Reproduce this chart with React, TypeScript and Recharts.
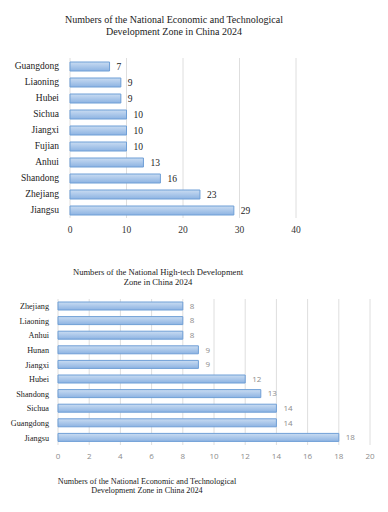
import React from 'react';
import { BarChart, Bar, XAxis, YAxis, CartesianGrid, LabelList } from 'recharts';

// Economic and Technological Development Zones
const ecoProvinces = ['Guangdong', 'Liaoning', 'Hubei', 'Sichua', 'Jiangxi', 'Fujian', 'Anhui', 'Shandong', 'Zhejiang', 'Jiangsu'];
const ecoCounts = [7, 9, 9, 10, 10, 10, 13, 16, 23, 29];
const ecoTicks = [0, 10, 20, 30, 40];

// High-tech Development Zones
const techProvinces = ['Zhejiang', 'Liaoning', 'Anhui', 'Hunan', 'Jiangxi', 'Hubei', 'Shandong', 'Sichua', 'Guangdong', 'Jiangsu'];
const techCounts = [8, 8, 8, 9, 9, 12, 13, 14, 14, 18];
const techTicks = [0, 2, 4, 6, 8, 10, 12, 14, 16, 18, 20];

const ecoData = ecoProvinces.map((name, i) => ({ name, value: ecoCounts[i] }));
const techData = techProvinces.map((name, i) => ({ name, value: techCounts[i] }));

const serif = '"Liberation Serif", "Times New Roman", serif';
const sans = '"Open Sans", "Liberation Sans", sans-serif';

const titleStyle = (top: number, center: number, size: number): React.CSSProperties => ({
  position: 'absolute',
  top,
  left: center - 150,
  width: 300,
  textAlign: 'center',
  fontFamily: serif,
  fontSize: size,
  lineHeight: `${Math.round(size * 1.15)}px`,
  color: '#222',
  whiteSpace: 'nowrap',
});

const BarGradient = ({ id }: { id: string }) => (
  <defs>
    <linearGradient id={id} x1="0" y1="0" x2="0" y2="1">
      <stop offset="0%" stopColor="#c9dcf2" />
      <stop offset="100%" stopColor="#8db3e2" />
    </linearGradient>
  </defs>
);

export default function App() {
  return (
    <div style={{ position: 'absolute', left: 0, top: 0, width: 388, height: 512, background: '#fff', overflow: 'hidden' }}>
      <div style={titleStyle(14, 174, 10)}>
        Numbers of the National Economic and Technological
        <br />
        Development Zone in China 2024
      </div>
      <div style={{ position: 'absolute', left: 0, top: 0 }}>
        <BarChart width={388} height={240} data={ecoData} layout="vertical" margin={{ top: 58, right: 92, bottom: 0, left: 0 }}>
          <BarGradient id="ecoFill" />
          <CartesianGrid horizontal={false} stroke="#dedede" />
          <XAxis
            type="number"
            domain={[0, 40]}
            ticks={ecoTicks}
            axisLine={false}
            tickLine={false}
            height={22}
            tick={{ fill: '#333', fontSize: 9.5, fontFamily: serif }}
          />
          <YAxis
            type="category"
            dataKey="name"
            width={70}
            axisLine={false}
            tickLine={false}
            interval={0}
            tick={{ fill: '#222', fontSize: 9.5, fontFamily: serif, dx: -3 }}
          />
          <Bar dataKey="value" barSize={9} fill="url(#ecoFill)" stroke="#6f9fd6" strokeWidth={1} isAnimationActive={false}>
            <LabelList dataKey="value" position="right" offset={7} style={{ fill: '#222', fontSize: 9.5, fontFamily: serif }} />
          </Bar>
        </BarChart>
      </div>

      <div style={titleStyle(267, 158, 8.6)}>
        Numbers of the National High-tech Development
        <br />
        Zone in China 2024
      </div>
      <div style={{ position: 'absolute', left: 0, top: 260 }}>
        <BarChart width={388} height={205} data={techData} layout="vertical" margin={{ top: 39, right: 18, bottom: 0, left: 0 }}>
          <BarGradient id="techFill" />
          <CartesianGrid horizontal={false} stroke="#dedede" />
          <XAxis
            type="number"
            domain={[0, 20]}
            ticks={techTicks}
            axisLine={false}
            tickLine={false}
            height={20}
            tick={{ fill: '#8c8c8c', fontSize: 8, fontFamily: sans }}
          />
          <YAxis
            type="category"
            dataKey="name"
            width={58}
            axisLine={false}
            tickLine={false}
            interval={0}
            tick={{ fill: '#222', fontSize: 8.2, fontFamily: serif, dx: -1 }}
          />
          <Bar dataKey="value" barSize={8} fill="url(#techFill)" stroke="#6f9fd6" strokeWidth={1} isAnimationActive={false}>
            <LabelList dataKey="value" position="right" offset={7} style={{ fill: '#8c8c8c', fontSize: 8, fontFamily: sans }} />
          </Bar>
        </BarChart>
      </div>

      <div style={titleStyle(477, 147, 8.2)}>
        Numbers of the National Economic and Technological
        <br />
        Development Zone in China 2024
      </div>
    </div>
  );
}
